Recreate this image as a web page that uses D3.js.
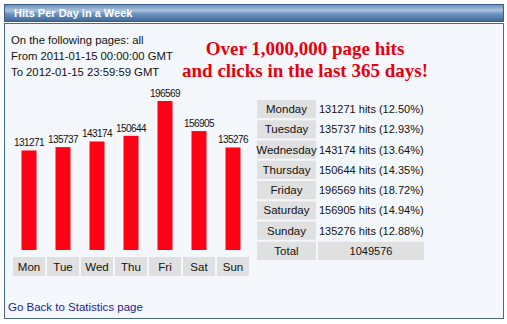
<!DOCTYPE html>
<html>
<head>
<meta charset="utf-8">
<script src="https://cdn.jsdelivr.net/npm/d3@7"></script>
<style>
  body { margin: 0; background: #fff; }
  svg text { font-family: "Liberation Sans", sans-serif; }
</style>
</head>
<body>
<div id="chart"></div>
<script>
// data
var days = ["Mon", "Tue", "Wed", "Thu", "Fri", "Sat", "Sun"];
var dayNames = ["Monday", "Tuesday", "Wednesday", "Thursday", "Friday", "Saturday", "Sunday"];
var hits = [131271, 135737, 143174, 150644, 196569, 156905, 135276];
var percents = ["12.50", "12.93", "13.64", "14.35", "18.72", "14.94", "12.88"];
var infoLines = ["On the following pages: all", "From 2011-01-15 00:00:00 GMT", "To 2012-01-15 23:59:59 GMT"];
var bannerLines = ["Over 1,000,000 page hits", "and clicks in the last 365 days!"];

var width = 507, height = 324;

var svg = d3.select("#chart").append("svg")
  .attr("width", width)
  .attr("height", height);

var defs = svg.append("defs");
var grad = defs.append("linearGradient").attr("id", "hdr")
  .attr("x1", 0).attr("y1", 0).attr("x2", 0).attr("y2", 1);
grad.append("stop").attr("offset", "0%").attr("stop-color", "#6a8fba");
grad.append("stop").attr("offset", "35%").attr("stop-color", "#a9c2de");
grad.append("stop").attr("offset", "55%").attr("stop-color", "#6e93bf");
grad.append("stop").attr("offset", "100%").attr("stop-color", "#3f6795");

// header bar
svg.append("rect")
  .attr("x", 4.5).attr("y", 4.5).attr("width", 499).attr("height", 17)
  .attr("fill", "url(#hdr)").attr("stroke", "#3a5f86");
svg.append("text")
  .attr("x", 14).attr("y", 17)
  .attr("fill", "#fff").attr("font-weight", "bold").attr("font-size", 11)
  .text("Hits Per Day in a Week");

// content box
svg.append("rect")
  .attr("x", 4.5).attr("y", 23.5).attr("width", 499).attr("height", 295)
  .attr("fill", "#f4f8fc").attr("stroke", "#4b6a88");

svg.selectAll("text.info")
  .data(infoLines)
  .enter().append("text")
  .attr("class", "info")
  .attr("x", 11)
  .attr("y", function (d, i) { return 44 + i * 16; })
  .attr("font-size", 11.3)
  .attr("fill", "#111")
  .text(function (d) { return d; });

svg.selectAll("text.banner")
  .data(bannerLines)
  .enter().append("text")
  .attr("class", "banner")
  .attr("x", 305)
  .attr("y", function (d, i) { return 55 + i * 22; })
  .attr("text-anchor", "middle")
  .style("font-family", "'Liberation Serif', serif")
  .attr("font-weight", "bold")
  .attr("font-size", 19)
  .attr("fill", "#e8000c")
  .text(function (d) { return d; });

// bar chart
var x = d3.scaleBand().domain(days).range([12, 250]).paddingInner(0.06).paddingOuter(0.03);
var y = d3.scaleLinear().domain([0, d3.max(hits)]).range([250, 101]);
var barW = 15;

var data = days.map(function (d, i) { return { day: d, name: dayNames[i], hits: hits[i], pct: percents[i] }; });

svg.selectAll("rect.bar")
  .data(data)
  .enter().append("rect")
  .attr("class", "bar")
  .attr("x", function (d) { return x(d.day) + x.bandwidth() / 2 - barW / 2; })
  .attr("y", function (d) { return y(d.hits); })
  .attr("width", barW)
  .attr("height", function (d) { return y(0) - y(d.hits); })
  .attr("fill", "#ff0014");

svg.selectAll("text.val")
  .data(data)
  .enter().append("text")
  .attr("class", "val")
  .attr("x", function (d) { return x(d.day) + x.bandwidth() / 2; })
  .attr("y", function (d) { return y(d.hits) - 4; })
  .attr("text-anchor", "middle")
  .attr("font-size", 10)
  .attr("letter-spacing", -0.6)
  .attr("fill", "#111")
  .text(function (d) { return d.hits; });

svg.selectAll("rect.lab")
  .data(data)
  .enter().append("rect")
  .attr("class", "lab")
  .attr("x", function (d) { return x(d.day); })
  .attr("y", 257)
  .attr("width", x.bandwidth())
  .attr("height", 19)
  .attr("fill", "#e0e0e0");

svg.selectAll("text.lab")
  .data(data)
  .enter().append("text")
  .attr("class", "lab")
  .attr("x", function (d) { return x(d.day) + x.bandwidth() / 2; })
  .attr("y", 271)
  .attr("text-anchor", "middle")
  .attr("font-size", 11.5)
  .attr("fill", "#111")
  .text(function (d) { return d.day; });

// table
var rows = data.map(function (d) { return { label: d.name, value: d.hits + " hits (" + d.pct + "%)", total: false }; });
rows.push({ label: "Total", value: String(d3.sum(hits)), total: true });

var ry = d3.scaleBand().domain(d3.range(rows.length)).range([100, 260]).paddingInner(0.1);
var col1 = 257, col1W = 59, col2 = 318, col2W = 106;

var tr = svg.selectAll("g.row")
  .data(rows)
  .enter().append("g")
  .attr("class", "row")
  .attr("transform", function (d, i) { return "translate(0," + ry(i) + ")"; });

tr.append("rect")
  .attr("x", col1).attr("width", col1W).attr("height", ry.bandwidth())
  .attr("fill", "#e0e0e0");
tr.filter(function (d) { return d.total; }).append("rect")
  .attr("x", col2).attr("width", col2W).attr("height", ry.bandwidth())
  .attr("fill", "#e0e0e0");

tr.append("text")
  .attr("x", col1 + col1W / 2)
  .attr("y", ry.bandwidth() / 2 + 4)
  .attr("text-anchor", "middle")
  .attr("font-size", 11.5)
  .attr("fill", "#111")
  .text(function (d) { return d.label; });

tr.append("text")
  .attr("x", function (d) { return d.total ? col2 + col2W / 2 : col2 + 1; })
  .attr("y", ry.bandwidth() / 2 + 4)
  .attr("text-anchor", function (d) { return d.total ? "middle" : "start"; })
  .attr("font-size", 11)
  .attr("fill", "#111")
  .text(function (d) { return d.value; });

// footer link
svg.append("text")
  .attr("x", 8).attr("y", 311)
  .attr("font-size", 11.5)
  .attr("fill", "#1e1e96")
  .text("Go Back to Statistics page");
</script>
</body>
</html>
